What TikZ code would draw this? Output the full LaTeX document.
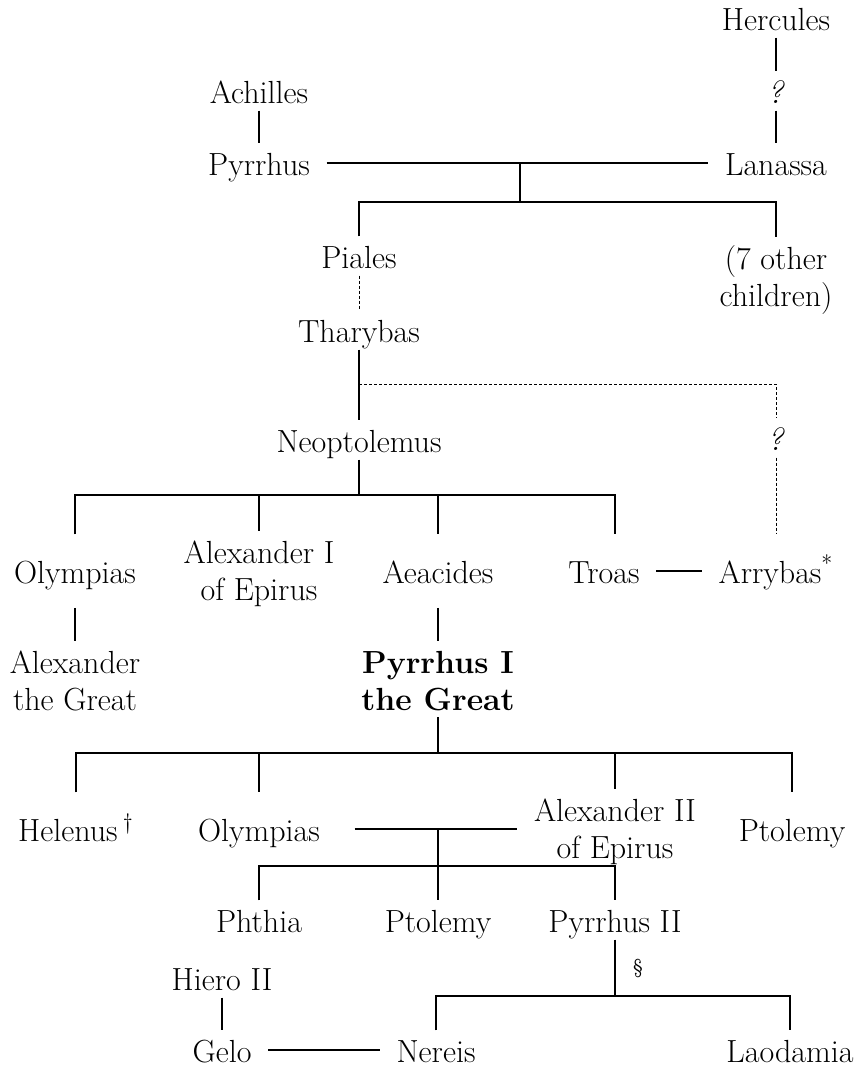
\documentclass[tikz,border=0pt]{standalone}
\usepackage{fontspec}
\usepackage{tikz}

\newcommand{\firstline}{\rule{0pt}{12.9pt}}

\tikzset{
	person/.style={inner xsep=8pt, inner ysep=3pt, text height=12.9pt, text depth=0pt},
	tallperson/.style={person, minimum height=36pt},
	twoline/.style={align=center, inner xsep=8pt, inner ysep=3pt},
	guess/.style={dash pattern=on 1.5pt off 1pt, line width=0.5pt},
}

\begin{document}
\begin{tikzpicture}[x=0.5pt, y=-0.5pt, line width=0.75pt, font=\fontsize{16}{18.5}\selectfont]
	\useasboundingbox (0,0) rectangle (858,1067);
	\node (hercules) at (776,18) [person] {Hercules};
	\node (qhercules) at (776,91) [person] {\textit{?}};
	\node (achilles) at (259,91) [person] {Achilles};
	\node (pyrrhus) at (259,163) [person] {Pyrrhus};
	\node (lanassa) at (776,163) [person] {Lanassa};
	\node (piales) at (359,256) [person] {Piales};
	\node (others) at (776,279) [twoline] {\firstline(7 other\\children)};
	\node (tharybas) at (359,330) [person] {Tharybas};
	\node (neoptolemus) at (359,440) [person] {Neoptolemus};
	\node (qarry) at (776,438) [person] {\textit{?}};
	\node (olympias) at (75,571) [tallperson] {Olympias};
	\node (alexI) at (259,572) [twoline] {\firstline Alexander I\\of Epirus};
	\node (aeacides) at (438,571) [tallperson] {Aeacides};
	\node (troas) at (604,571) [tallperson] {Troas};
	\node (arrybas) at (776,571) [tallperson] {Arrybas\textsuperscript{*}};
	\node (alexgreat) at (75,679) [twoline] {\firstline Alexander\\the Great};
	\node (pyrrhusI) at (438,679) [twoline, font=\fontsize{16}{18.5}\selectfont\bfseries] {\firstline Pyrrhus I\\the Great};
	\node (helenus) at (76,829) [tallperson] {Helenus\,\textsuperscript{\dag}};
	\node (olympiasII) at (259,829) [tallperson] {Olympias};
	\node (alexII) at (615,830) [twoline] {\firstline Alexander II\\of Epirus};
	\node (ptolemy) at (792,829) [tallperson] {Ptolemy};
	\node (phthia) at (259,920) [person] {Phthia};
	\node (ptolemyII) at (438,920) [person] {Ptolemy};
	\node (pyrrhusII) at (615,920) [person] {Pyrrhus II};
	\node (sect) at (638,968) [font=\fontsize{10}{12}\selectfont] {\S};
	\node (hiero) at (222,978) [person] {Hiero II};
	\node (gelo) at (222,1050) [person] {Gelo};
	\node (nereis) at (436,1050) [person] {Nereis};
	\node (laodamia) at (790,1050) [person] {Laodamia};

	\coordinate (m1) at (520,163);
	\coordinate (b1) at (520,202);
	\coordinate (d1) at (359,384);
	\coordinate (b2) at (359,495);
	\coordinate (b2r) at (615,495);
	\coordinate (b3) at (438,753);
	\coordinate (m3) at (438,829);
	\coordinate (b4) at (438,866);
	\coordinate (b5) at (615,996);

	\draw (hercules) -- (qhercules) -- (lanassa);
	\draw (achilles) -- (pyrrhus);
	\draw (pyrrhus) -- (lanassa);
	\draw (m1) -- (b1);
	\draw (piales) -- (piales |- b1) -- (others |- b1) -- (others);
	\draw[guess] (piales) -- (tharybas);
	\draw (tharybas) -- (neoptolemus);
	\draw[guess] (d1) -- (d1 -| qarry) -- (qarry) -- (arrybas);
	% children of Neoptolemus
	\draw (neoptolemus) -- (b2);
	\draw (olympias) -- (olympias |- b2) -- (b2r) -- (b2r |- troas.north);
	\draw (alexI |- b2) -- (alexI);
	\draw (aeacides |- b2) -- (aeacides);
	\draw (troas) -- (arrybas);
	\draw (olympias) -- (alexgreat);
	\draw (aeacides) -- (pyrrhusI);
	% children of Pyrrhus I
	\draw (pyrrhusI) -- (b3);
	\draw (helenus) -- (helenus |- b3) -- (ptolemy |- b3) -- (ptolemy);
	\draw (olympiasII |- b3) -- (olympiasII);
	\draw (alexII |- b3) -- (alexII);
	\draw[shorten <=9pt] (olympiasII) -- (olympiasII -| alexII.west);
	\draw (m3) -- (ptolemyII);
	\draw (phthia) -- (phthia |- b4) -- (pyrrhusII |- b4) -- (pyrrhusII);
	% children of Pyrrhus II
	\draw (pyrrhusII) -- (b5);
	\draw (nereis) -- (nereis |- b5) -- (laodamia |- b5) -- (laodamia);
	\draw (hiero) -- (gelo);
	\draw (gelo) -- (nereis);
\end{tikzpicture}
\end{document}
